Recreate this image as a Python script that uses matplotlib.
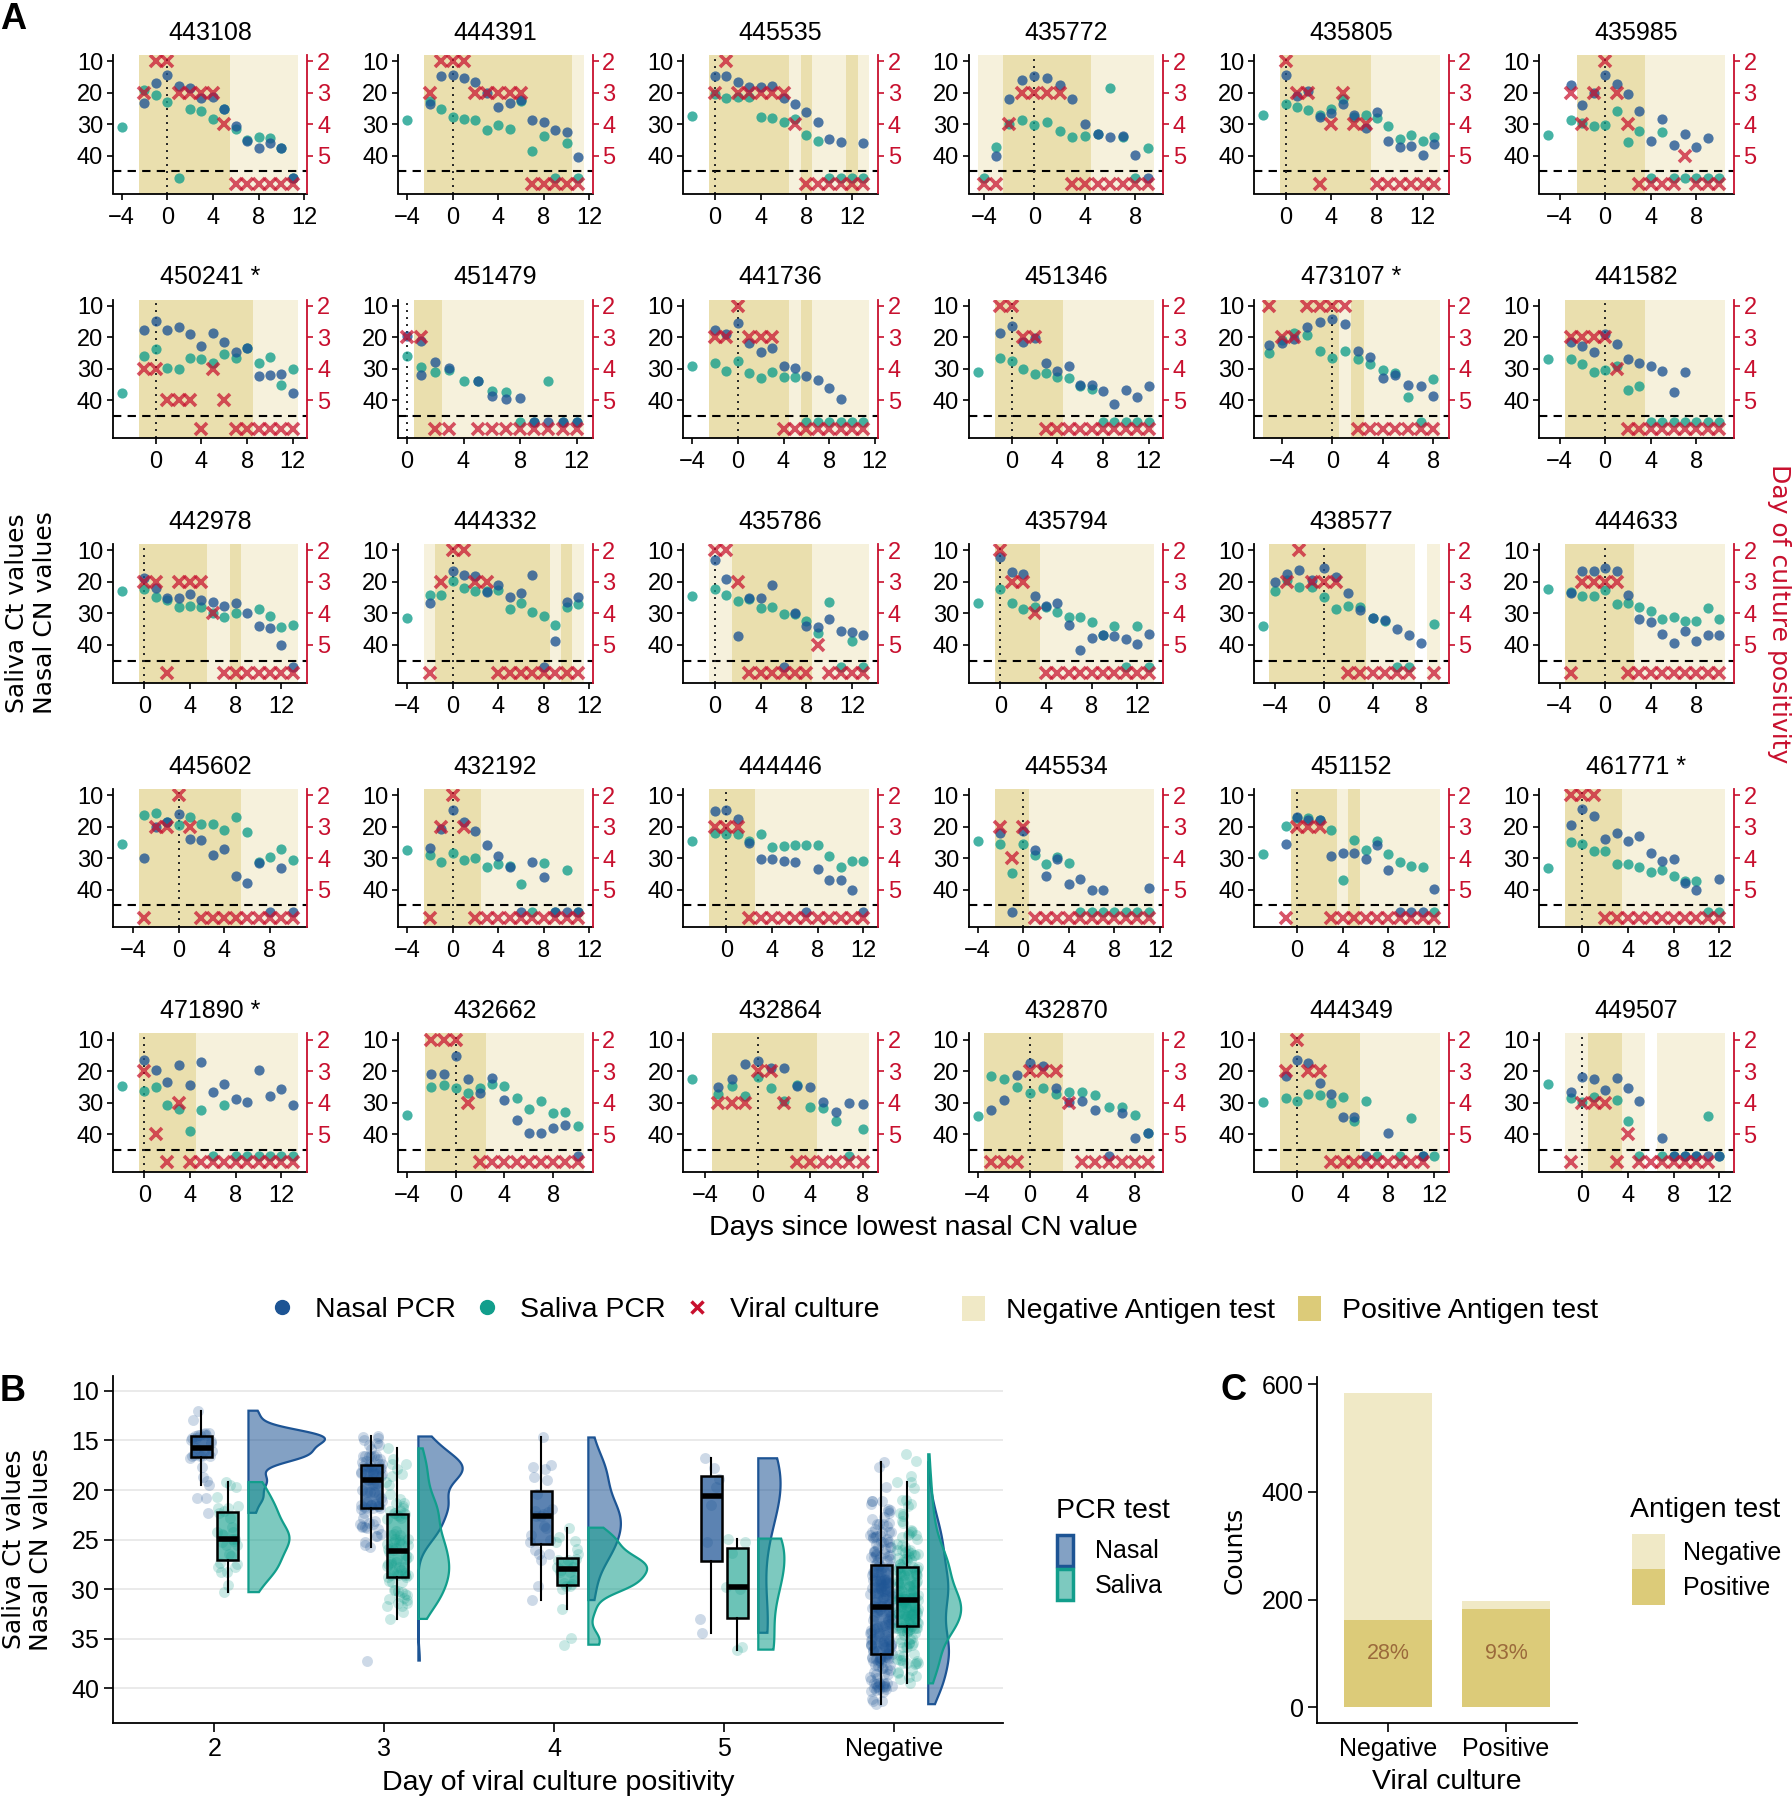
import numpy as np
import matplotlib
matplotlib.use("Agg")
import matplotlib.pyplot as plt
from matplotlib import font_manager
from matplotlib.patches import Patch
from matplotlib.lines import Line2D
from matplotlib.ticker import MultipleLocator

# ============================ DATA ============================
subject_ids = ["443108", "444391", "445535", "435772", "435805", "435985",
               "450241 *", "451479", "441736", "451346", "473107 *", "441582",
               "442978", "444332", "435786", "435794", "438577", "444633",
               "445602", "432192", "444446", "445534", "451152", "461771 *",
               "471890 *", "432662", "432864", "432870", "444349", "449507"]

# antigen test per day: P positive, N negative, . no test
antigen_start = [-2, -2, 0, -4, 0, -2, -1, 1, -2, -1, -5, -3, 0, -2, 0,
                 0, -4, -3, -3, -2, -1, -2, 0, -1, 0, -2, -3, -3, -1, -1]
antigen_calls = ["PPPPPPPPNNNNNN", "PPPPPPPPPPPPPN", "PPPPPPPNPNNNPN", "NNPPPPPPPNNNNN",
                 "PPPPPPPPNNNNNN", "PPPPPPNNNNNNN", "PPPPPPPPPPNNNN", "PPNNNNNNNNNN",
                 "PPPPPPPNPNNNNN", "PPPPPPNNNNNNNN", "PPPPPPNPNNNNNN", "PPPPPPPNNNNNNN",
                 "PPPPPPNNPNNNNN", "NPPPPPPPPPPNPN", "NNPPPPPPPNNNNN", "PPPPNNNNNNNNNN",
                 "PPPPPPPPNNNN.N", "PPPPPPNNNNNNNN", "PPPPPPPPPNNNNN", "PPPPPNNNNNNNNN",
                 "PPPPNNNNNNNNNN", "PPPNNNNNNNNNNN", "PPPPNPNNNNNNN", "PPPPPNNNNNNNNN",
                 "PPPPPNNNNNNNNN", "PPPPPNNNNNNNN", "PPPPPPPPNNNN", "PPPPPPNNNNNNN",
                 "PPPPPPPNNNNNNN", "NNPPPNN.NNNNNN"]

# nasal CN values per consecutive day from nasal_start (None = no sample, "ND" = not detected)
nasal_start = [-2, -2, 0, -3, 0, -3, -1, 0, -2, -1, -5, -3, 0, -2, 0,
               0, -4, -3, -3, -2, -1, -2, -1, -1, 0, -2, -3, -3, -1, -1]
nasal_ct = [
    [23.4, 16.8, 14.3, 17.9, 18.4, 21.6, 21.5, 25.2, 30.5, 35.2, 37.7, 36.0, 37.4, "ND"],
    [23.7, 14.8, 14.2, 15.4, 16.5, 20.2, 24.4, 23.4, 22.3, 28.6, 29.3, 31.8, 32.6, 40.4],
    [14.8, 14.8, 16.6, 18.3, 18.3, 17.9, 21.8, 23.6, 26.2, 29.3, 34.7, 35.5, None, 35.8],
    [40.2, 22.1, 15.9, 14.7, 15.3, 17.6, 22.0, 29.8, 33.1, 34.2, 33.7, 39.8, "ND"],
    [14.5, 21.1, 19.4, 27.8, 26.5, 23.7, 27.1, 31.1, 26.2, 35.2, 37.2, 36.8, 39.9, 36.2],
    [17.4, 23.8, 20.2, 14.5, 17.2, 20.4, 25.7, 35.4, 28.3, 36.5, 33.0, 37.1, 34.4],
    [17.5, 14.7, 17.8, 16.8, 18.9, 22.7, 18.7, 21.5, 24.6, 23.3, 32.2, 31.9, 31.6, 37.8],
    [19.5, 21.2, 27.7, 29.6, None, 34.0, 38.6, 39.6, 39.2, "ND", "ND", "ND", "ND"],
    [17.8, 18.9, 15.3, 21.7, 24.6, 23.3, 29.0, 29.8, 32.2, 33.7, 36.2, 39.5],
    [18.7, 16.5, 21.5, 20.2, 28.3, 30.7, 29.1, 35.0, 35.0, 36.9, 41.1, 36.8, 39.0, 35.5],
    [22.3, 21.8, 20.5, 16.6, 15.0, 14.2, 15.8, 24.2, 26.3, 33.0, 32.1, 35.1, 35.6, 38.6],
    [21.5, 22.8, 24.6, 18.9, 22.2, 27.0, 28.0, 29.1, 30.6, 37.3, 31.0],
    [18.6, 21.8, 25.2, 25.2, 23.9, 25.7, 26.5, 27.6, 26.7, 29.9, 34.1, 34.6, 39.9, "ND"],
    [26.6, None, 16.6, 17.7, 18.2, 23.1, 21.1, 24.8, 23.6, 17.7, "ND", 38.9, 26.4, 24.7],
    [12.9, 19.1, 37.2, 25.2, 25.2, 21.1, "ND", 30.0, 33.9, 34.4, 31.8, 35.6, 36.0, 36.9],
    [12.0, 16.9, 17.6, 24.5, 27.6, 26.8, 33.6, 41.6, 37.7, 36.9, 37.2, 38.1, 39.8, 36.5],
    [20.0, 17.6, 16.1, 19.3, 15.5, 18.4, 23.4, 28.9, 31.5, 32.0, 35.0, 36.7, 39.3],
    [23.4, 16.6, 16.6, 15.5, 16.6, 24.2, 31.7, 32.7, 36.4, 39.5, 35.6, 38.6, 37.0, 37.0],
    [30.0, 20.0, 18.4, 16.1, 23.8, 24.2, 29.1, 27.1, 35.8, 38.0, 31.7, "ND", 33.2, "ND"],
    [26.8, 20.8, 14.6, 18.4, 21.4, 25.9, 29.2, 32.8, "ND", 31.1, 36.1, "ND", "ND", "ND"],
    [15.0, 14.6, 17.7, 25.2, 30.4, 30.4, 30.9, 31.3, "ND", 33.5, 36.9, 36.9, 40.1, "ND"],
    [21.9, "ND", 21.4, 27.3, 35.6, 30.2, 38.4, 36.5, 40.1, 40.3, None, None, None, 39.5],
    [25.4, 17.1, 17.9, 17.9, 29.4, 28.3, 28.3, 30.2, 25.7, 33.9, "ND", "ND", "ND", 39.8],
    [19.5, 14.5, 16.6, 23.9, 21.9, 24.5, 22.9, 28.3, 30.9, 30.2, 38.0, 40.0, None, 36.6],
    [16.6, 19.7, 23.4, 17.9, 24.5, 17.2, 26.5, 24.2, 28.9, 29.9, 19.7, 27.8, 25.7, 30.9],
    [20.8, 20.8, 15.1, 22.6, 26.8, 22.1, 29.2, 35.6, 39.8, 39.6, 38.2, 37.0, "ND"],
    [25.0, 22.6, 17.7, 16.9, 19.0, 19.0, 24.7, 24.9, 29.9, 33.0, 30.2, 30.4],
    [32.3, 29.1, 21.1, 17.4, 18.2, 25.5, 29.7, 29.4, 32.3, "ND", 33.4, 41.3, 39.5],
    [21.6, 16.6, 17.4, 23.6, 27.1, 34.4, 34.4, "ND", None, 39.6, None, None, "ND"],
    [26.6, 21.9, 22.4, 26.0, 22.3, 25.2, 29.4, None, 41.3, "ND", "ND", "ND", "ND", "ND"],
]
# second nasal sample on the same day: (subject index, day, CN)
nasal_repeat = [(7, 1, 32.0)]

saliva_start = [-4, -4, -2, -4, -2, -5, -3, 0, -4, -3, -5, -5, -2, -4, -2,
                -2, -5, -5, -5, -4, -3, -4, -3, -3, -2, -4, -5, -4, -3, -3]
saliva_ct = [
    [30.8, None, 19.2, 20.7, 22.8, "ND", 25.0, 25.8, 28.4, 25.2, 31.6, 35.0, 34.2, 34.4, 37.4, "ND"],
    [28.8, None, 22.5, 25.2, 27.8, 28.3, 28.8, 31.7, 30.1, 31.4, 22.6, 38.4, 33.7, "ND", 35.8, "ND"],
    [27.3, None, 20.4, 21.8, 21.3, 21.3, 27.7, 28.1, 29.3, 28.3, 33.3, 35.4, "ND", "ND", "ND", "ND"],
    ["ND", 37.1, 30.0, 28.8, 30.2, 29.2, 32.3, 33.9, 33.6, 33.1, 18.6, 34.1, "ND", 37.4],
    [27.1, None, 23.7, 24.4, 25.5, 27.1, 25.1, 22.0, 27.6, 27.1, 27.9, 30.7, 34.6, 33.4, 35.4, 33.9],
    [33.4, None, 28.6, 29.5, 30.5, 30.3, 25.8, 35.6, 32.1, "ND", 32.6, "ND", "ND", "ND", "ND", "ND"],
    [37.6, None, 25.9, 23.8, 29.8, 30.0, 26.4, 26.9, 28.3, 25.2, 26.4, 23.3, 28.0, 26.2, 35.0, 30.1],
    [25.9, 29.3, 31.0, 30.5, 33.8, 34.0, 37.1, 37.5, "ND", "ND", 33.9, "ND", "ND"],
    [29.0, None, 28.3, 30.6, 27.5, 31.4, 33.0, 30.9, 32.5, 32.5, "ND", "ND", "ND", "ND", "ND", "ND"],
    [30.9, None, 26.5, 27.4, 30.1, 31.7, 31.2, 32.5, 33.0, 35.3, 36.5, "ND", "ND", "ND", "ND", "ND"],
    [25.1, 20.9, 18.6, 19.2, 24.2, 26.7, 24.4, 27.0, 28.6, 30.4, 31.4, 38.8, "ND", 33.3],
    [27.0, None, 27.0, 28.4, 31.0, 30.3, 29.1, 36.6, 35.4, "ND", "ND", "ND", "ND", "ND", "ND", "ND"],
    [22.9, None, 22.3, 24.9, 25.7, 27.8, 27.5, 27.8, 29.7, 31.1, 29.7, None, 28.6, 30.9, 34.3, 33.6],
    [31.5, None, 24.1, 24.1, 19.7, 21.8, 22.9, 22.8, 22.6, 28.6, 26.8, 29.4, 30.7, 33.8, 28.1, 27.1],
    [24.4, None, 22.3, 24.2, 26.0, 25.5, 28.4, 28.1, 30.2, 30.2, 32.5, 36.1, 26.5, "ND", 38.9, "ND"],
    [26.6, None, 22.1, 26.6, 28.6, 27.8, 27.8, 29.6, 31.0, 31.0, 32.6, 36.7, 33.9, "ND", 33.9, "ND"],
    [33.9, 22.9, 19.5, 21.6, 21.6, 24.9, 28.6, 27.5, 27.8, 31.5, 32.3, "ND", "ND", None, 33.4],
    [22.1, None, 23.1, 24.5, 24.5, 22.4, 27.0, 26.6, 28.1, 29.2, 31.7, 31.0, 32.3, 32.3, 28.4, 31.7],
    [25.5, None, 16.4, 15.8, 18.4, 19.5, 16.9, 19.2, 19.2, 21.0, 17.1, 21.6, 31.1, 29.6, 27.0, 30.6],
    [27.5, None, 29.1, 31.1, 28.3, 30.7, 30.1, 33.0, 31.8, 32.5, 38.2, "ND", 31.5, "ND", 33.9, "ND"],
    [24.5, None, 22.1, 22.3, 22.3, 24.5, 22.3, 26.6, 26.3, 26.0, 26.0, 26.0, 29.4, 32.7, 30.9, 30.9],
    [24.5, None, 25.4, 34.9, 25.4, 29.1, 32.0, 29.7, 31.7, "ND", "ND", "ND", "ND", "ND", "ND", "ND"],
    [28.6, None, 19.8, 17.4, 17.4, 17.9, 21.0, 37.0, 24.2, 27.3, 24.5, 28.6, 31.1, 32.5, 32.8, "ND"],
    [33.3, None, 24.9, 25.5, 27.8, 27.8, 31.8, 31.8, 32.8, 34.3, 33.9, 35.6, 37.4, 37.2, "ND", "ND"],
    [24.7, None, 26.3, 24.9, 30.9, 32.0, 39.1, 32.3, "ND", 30.7, "ND", "ND", "ND", "ND", "ND", "ND"],
    [33.9, None, 24.9, 24.5, 25.5, 27.0, 25.4, 24.0, 24.7, 28.6, 32.0, 29.6, 33.3, 33.0, 37.4],
    [22.4, None, 27.1, 24.7, 27.8, 21.8, 25.2, 29.4, 24.4, 31.5, 31.8, 35.8, "ND", 38.5],
    [34.1, 21.4, 22.4, 24.9, 26.8, 25.2, 27.3, 26.5, 26.5, 27.5, 31.3, 31.3, 33.9, 39.5],
    [29.9, None, 28.6, 29.6, 27.3, 27.5, 30.2, 28.1, 35.8, 29.4, "ND", None, "ND", 34.9, "ND", "ND"],
    [24.0, None, 28.6, 29.7, 28.1, None, 29.2, 35.8, "ND", None, "ND", "ND", "ND", "ND", 34.1, "ND"],
]

# viral culture: day of culture positivity (2-5), "neg" = negative culture
culture_start = [-2, -2, 0, -4, 0, -3, -1, 0, -2, -1, -5, -3, 0, -2, 0,
                 0, -3, -3, -3, -2, -1, -2, -1, -1, 0, -2, -3, -3, -1, -1]
culture_result = [
    [3, 2, 2, 3, 3, 3, 3, 4, "neg", "neg", "neg", "neg", "neg", "neg"],
    [3, 2, 2, 2, 3, 3, 3, 3, 3, "neg", "neg", "neg", "neg", "neg"],
    [3, 2, 3, 3, 3, 3, 3, 4, "neg", "neg", "neg", "neg", "neg", "neg"],
    ["neg", "neg", 4, 3, 3, 3, 3, "neg", "neg", "neg", "neg", "neg", "neg", "neg"],
    [2, 3, 3, "neg", 4, 3, 4, 4, "neg", "neg", "neg", "neg", "neg", "neg"],
    [3, 4, 3, 2, 3, 4, "neg", "neg", "neg", "neg", 5, "neg", "neg", "neg"],
    [4, 4, 5, 5, 5, "neg", 4, 5, "neg", "neg", "neg", "neg", "neg", "neg"],
    [3, 3, "neg", "neg", None, "neg", "neg", "neg", "neg", "neg", "neg", "neg", "neg"],
    [3, 3, 2, 3, 3, 3, "neg", "neg", "neg", "neg", "neg", "neg", "neg", "neg"],
    [2, 2, 3, 3, "neg", "neg", "neg", "neg", "neg", "neg", "neg", "neg", "neg", "neg"],
    [2, 3, 3, 2, 2, 2, 2, "neg", "neg", "neg", "neg", "neg", "neg", "neg"],
    [3, 3, 3, 3, 4, "neg", "neg", "neg", "neg", "neg", "neg", "neg", "neg", "neg"],
    [3, 3, "neg", 3, 3, 3, 4, "neg", "neg", "neg", "neg", "neg", "neg", "neg"],
    ["neg", 3, 2, 2, 3, 3, "neg", "neg", "neg", "neg", "neg", "neg", "neg", "neg"],
    [2, 2, 3, "neg", "neg", "neg", "neg", "neg", "neg", 5, "neg", "neg", "neg", "neg"],
    [2, 3, 3, 4, "neg", "neg", "neg", "neg", "neg", "neg", "neg", "neg", "neg", "neg"],
    [3, 2, 3, 3, 3, "neg", "neg", "neg", "neg", "neg", "neg", None, "neg"],
    ["neg", 3, 3, 3, 3, "neg", "neg", "neg", "neg", "neg", "neg", "neg", "neg", "neg"],
    ["neg", 3, 3, 2, 3, "neg", "neg", "neg", "neg", "neg", "neg", "neg", "neg", "neg"],
    ["neg", 3, 2, 3, "neg", "neg", "neg", "neg", "neg", "neg", "neg", "neg", "neg", "neg"],
    [3, 3, 3, "neg", "neg", "neg", "neg", "neg", "neg", "neg", "neg", "neg", "neg", "neg"],
    [3, 4, 3, "neg", "neg", "neg", "neg", "neg", "neg", "neg", "neg", "neg", "neg", "neg"],
    ["neg", 3, 3, 3, "neg", "neg", "neg", "neg", "neg", "neg", "neg", "neg", "neg", "neg"],
    [2, 2, 2, "neg", "neg", "neg", "neg", "neg", "neg", "neg", "neg", "neg", "neg", "neg"],
    [3, 5, "neg", 4, "neg", "neg", "neg", "neg", "neg", "neg", "neg", "neg", "neg", "neg"],
    [2, 2, 2, 4, "neg", "neg", "neg", "neg", "neg", "neg", "neg", "neg", "neg"],
    [4, 4, 4, 3, 3, 4, "neg", "neg", "neg", "neg", "neg", "neg"],
    ["neg", "neg", "neg", 3, 3, 3, 4, "neg", "neg", "neg", "neg", "neg", "neg"],
    [3, 2, 3, 3, "neg", "neg", "neg", "neg", "neg", "neg", "neg", "neg", "neg"],
    ["neg", 4, 4, 4, "neg", 5, "neg", "neg", "neg", "neg", "neg", "neg", "neg"],
]

# Panel B categories
pos_day_groups = [2, 3, 4, 5, "neg"]
pos_day_labels = ["2", "3", "4", "5", "Negative"]

# Panel C counts
culture_labels = ["Negative", "Positive"]
antigen_pos_counts = [162, 183]
antigen_neg_counts = [422, 14]

# ============================ STYLE ============================
names = {f.name for f in font_manager.fontManager.ttflist}
MAIN = "Liberation Sans" if "Liberation Sans" in names else "DejaVu Sans"
ROT = "DejaVu Sans"
plt.rcParams["font.family"] = [MAIN, "DejaVu Sans"]
plt.rcParams["axes.linewidth"] = 1.3

NASAL = "#1D5494"
SALIVA = "#129E8C"
RED = "#C8102E"
AG_POS = "#DCCB79"
AG_NEG = "#F0E9C6"
ND_LEVEL = 47.0
CULT_NEG_LEVEL = 49.0
YLIM = (52.0, 8.0)

W, H = 1792, 1800
fig = plt.figure(figsize=(W / 100, H / 100), dpi=100)


def px_axes(x0, y0, w, h):
    return fig.add_axes([x0 / W, 1 - (y0 + h) / H, w / W, h / H])


def expand(start, vals):
    out = []
    for i, v in enumerate(vals):
        if v is None:
            continue
        out.append((start + i, v))
    return out


def runs(start, calls):
    res = []
    cur, s = None, None
    for i, ch in enumerate(calls + "."):
        if ch != cur:
            if cur in ("P", "N"):
                res.append((cur, start + s - 0.5, start + i - 0.5))
            cur, s = ch, i
    return res


# ============================ PANEL A ============================
for k, sid in enumerate(subject_ids):
    r, c = divmod(k, 6)
    ax = px_axes(112.8 + 285.3 * c, 55 + 244.6 * r, 194.5, 138.5)
    ax2 = ax.twinx()

    allx = []
    for call, a, b in runs(antigen_start[k], antigen_calls[k]):
        ax.axvspan(a, b, facecolor=AG_POS if call == "P" else AG_NEG, alpha=0.6,
                   lw=0, zorder=0)
        allx += [a, b]

    nas = expand(nasal_start[k], nasal_ct[k]) + [(d, v) for (s, d, v) in nasal_repeat if s == k]
    sal = expand(saliva_start[k], saliva_ct[k])
    cul = expand(culture_start[k], culture_result[k])
    allx += [d for d, _ in nas] + [d for d, _ in sal] + [d for d, _ in cul]

    ax.axhline(45, color="black", lw=1.5, ls=(0, (4, 3)), zorder=1)
    ax.axvline(0, color="#222222", lw=1.4, ls=(0, (1, 2.6)), zorder=1)

    sx = [d for d, _ in sal]
    sy = [ND_LEVEL if v == "ND" else v for _, v in sal]
    ax.scatter(sx, sy, s=54, color=SALIVA, alpha=0.78, lw=0, zorder=3)
    nx = [d for d, _ in nas]
    ny = [ND_LEVEL if v == "ND" else v for _, v in nas]
    ax.scatter(nx, ny, s=54, color=NASAL, alpha=0.78, lw=0, zorder=4)

    cx = [d for d, _ in cul]
    cy = [1 + CULT_NEG_LEVEL / 10 if v == "neg" else v for _, v in cul]
    ax2.plot(cx, cy, ls="none", marker="x", color=RED, alpha=0.72, ms=8.5, mew=2.6)

    lo, hi = min(allx), max(allx)
    pad = 0.05 * (hi - lo)
    ax.set_xlim(lo - pad, hi + pad)
    ax.set_ylim(*YLIM)
    ax2.set_ylim(1 + YLIM[0] / 10, 1 + YLIM[1] / 10)
    ax.set_yticks([10, 20, 30, 40])
    ax2.set_yticks([2, 3, 4, 5])
    ax.xaxis.set_major_locator(MultipleLocator(4))

    for sp in ("top", "right"):
        ax.spines[sp].set_visible(False)
    for sp in ("top", "left", "bottom"):
        ax2.spines[sp].set_visible(False)
    ax2.spines["right"].set_color(RED)
    ax2.spines["right"].set_linewidth(1.3)
    ax.tick_params(axis="both", labelsize=17, length=4, width=1.2)
    ax.tick_params(axis="x", pad=5.5)
    ax.tick_params(axis="y", pad=3)
    ax2.tick_params(axis="y", labelsize=17, length=4, width=1.2, pad=3,
                    colors=RED, labelcolor=RED)
    ax.set_title(sid, fontsize=18, pad=11)

fig.text(0.0, 1 - 2 / H, "A", fontsize=26, fontweight="bold", va="top", ha="left")
fig.text(31 / W, 1 - 613 / H, "Saliva Ct values\nNasal CN values", rotation=90,
         ha="center", va="center", fontsize=18, family=ROT, linespacing=1.2)
fig.text(1779 / W, 1 - 614 / H, "Day of culture positivity", rotation=270,
         ha="center", va="center", fontsize=18, family=ROT, color=RED)
fig.text(923 / W, 1 - 1228 / H, "Days since lowest nasal CN value",
         ha="center", va="center", fontsize=20.5)

# top legend
h1 = [Line2D([], [], ls="none", marker="o", ms=10, color=NASAL),
      Line2D([], [], ls="none", marker="o", ms=10, color=SALIVA),
      Line2D([], [], ls="none", marker="x", ms=9, mew=2.5, color=RED)]
fig.legend(h1, ["Nasal PCR", "Saliva PCR", "Viral culture"], loc="center left",
           bbox_to_anchor=(268 / W, 1 - 1310 / H), ncol=3, frameon=False,
           fontsize=20.5, handlelength=1.0, handletextpad=0.65, columnspacing=0.6,
           borderpad=0, borderaxespad=0)
h2 = [Patch(facecolor=AG_NEG, lw=0), Patch(facecolor=AG_POS, lw=0)]
fig.legend(h2, ["Negative Antigen test", "Positive Antigen test"], loc="center left",
           bbox_to_anchor=(962 / W, 1 - 1310 / H), ncol=2, frameon=False,
           fontsize=20.5, handlelength=0.8, handleheight=0.95, handletextpad=0.75,
           columnspacing=0.8, borderpad=0, borderaxespad=0)

# ============================ PANEL B ============================
nas_groups = {g: [] for g in pos_day_groups}
sal_groups = {g: [] for g in pos_day_groups}
for k in range(len(subject_ids)):
    nmap = dict(expand(nasal_start[k], nasal_ct[k]))
    smap = dict(expand(saliva_start[k], saliva_ct[k]))
    for d, res in expand(culture_start[k], culture_result[k]):
        nv, sv = nmap.get(d), smap.get(d)
        if isinstance(nv, float):
            nas_groups[res].append(nv)
        if isinstance(sv, float):
            sal_groups[res].append(sv)


def kde(vals, grid):
    v = np.asarray(vals, float)
    n = len(v)
    sd = v.std(ddof=1)
    q75, q25 = np.percentile(v, [75, 25])
    bw = 0.9 * min(sd, (q75 - q25) / 1.34) * n ** (-0.2)
    z = (grid[:, None] - v[None, :]) / bw
    return np.exp(-0.5 * z ** 2).sum(1) / (n * bw * np.sqrt(2 * np.pi))


axB = px_axes(112.5, 1376, 890.5, 347)
dens = {}
for g in pos_day_groups:
    for kind, vals in (("n", nas_groups[g]), ("s", sal_groups[g])):
        grid = np.linspace(min(vals), max(vals), 300)
        dens[(g, kind)] = (grid, kde(vals, grid))
scale = 0.45 / max(d.max() for _, d in dens.values())

for gi, g in enumerate(pos_day_groups):
    for kind, vals, col, off, a_box in (("n", nas_groups[g], NASAL, -0.077, 0.72),
                                         ("s", sal_groups[g], SALIVA, 0.077, 0.62)):
        v = np.asarray(vals)
        jit = (np.modf(np.arange(len(v)) * 0.6180339887)[0] - 0.5) * 0.13
        axB.scatter(gi + off + jit, v, s=62, color=col, alpha=0.22, lw=0, zorder=2)
        bp = axB.boxplot([v], positions=[gi + off], widths=0.125, patch_artist=True,
                         showfliers=False, whis=1.5, manage_ticks=False, zorder=3)
        for b in bp["boxes"]:
            b.set_facecolor((matplotlib.colors.to_rgb(col) + (a_box,)))
            b.set_edgecolor("black")
            b.set_linewidth(1.8)
        for wl in bp["whiskers"]:
            wl.set_color("black")
            wl.set_linewidth(1.5)
        for cp in bp["caps"]:
            cp.set_visible(False)
        for m in bp["medians"]:
            m.set_color("black")
            m.set_linewidth(4)
    for kind, col in (("n", NASAL), ("s", SALIVA)):
        grid, d = dens[(g, kind)]
        x0 = gi + 0.2
        xs = np.concatenate([[x0], x0 + d * scale, [x0]])
        ys = np.concatenate([[grid[0]], grid, [grid[-1]]])
        axB.fill(xs, ys, facecolor=matplotlib.colors.to_rgb(col) + (0.55,),
                 edgecolor=col, lw=1.6, zorder=4)

axB.set_xlim(-0.6, 4.64)
axB.set_ylim(43.5, 8.5)
axB.set_yticks([10, 15, 20, 25, 30, 35, 40])
axB.set_xticks(range(len(pos_day_groups)))
axB.set_xticklabels(pos_day_labels)
axB.yaxis.grid(True, color="#E8E8E8", lw=1.3)
axB.set_axisbelow(True)
for sp in ("top", "right"):
    axB.spines[sp].set_visible(False)
axB.tick_params(axis="both", labelsize=18, length=6.5, width=1.2)
axB.tick_params(axis="x", pad=3.5)
axB.tick_params(axis="y", pad=3)
axB.set_xlabel("Day of viral culture positivity", fontsize=20.5, va="center")
axB.xaxis.set_label_coords(0.5, -0.173)
axB.set_ylabel("Saliva Ct values\nNasal CN values", fontsize=18, family=ROT,
               linespacing=1.15, va="center")
axB.yaxis.set_label_coords(-0.095, 0.5)
fig.text(0.0, 1 - 1374 / H, "B", fontsize=26, fontweight="bold", va="top", ha="left")

hB = [Patch(facecolor=matplotlib.colors.to_rgb(NASAL) + (0.55,), edgecolor=NASAL, lw=2.5),
      Patch(facecolor=matplotlib.colors.to_rgb(SALIVA) + (0.55,), edgecolor=SALIVA, lw=2.5)]
fig.text(1056 / W, 1 - 1511 / H, "PCR test", fontsize=20.5, ha="left", va="center")
fig.legend(hB, ["Nasal", "Saliva"], loc="upper left",
           bbox_to_anchor=(1057 / W, 1 - 1535 / H), frameon=False, fontsize=18,
           handlelength=0.65, handleheight=1.5, labelspacing=0.15, handletextpad=0.85,
           borderpad=0, borderaxespad=0)

# ============================ PANEL C ============================
axC = px_axes(1317, 1377, 260, 346)
xc = np.arange(len(culture_labels))
axC.bar(xc, antigen_pos_counts, width=0.75, color=AG_POS, lw=0)
axC.bar(xc, antigen_neg_counts, width=0.75, bottom=antigen_pos_counts, color=AG_NEG, lw=0)
for i in range(len(xc)):
    tot = antigen_pos_counts[i] + antigen_neg_counts[i]
    axC.text(xc[i], 100, f"{100 * antigen_pos_counts[i] / tot:.0f}%", ha="center",
             va="center", fontsize=15.5, color="#9B6A3B")
axC.set_xlim(-0.6, 1.6)
axC.set_ylim(-29, 613)
axC.set_yticks([0, 200, 400, 600])
axC.set_xticks(xc)
axC.set_xticklabels(culture_labels)
for sp in ("top", "right"):
    axC.spines[sp].set_visible(False)
axC.tick_params(axis="both", labelsize=18, length=6.5, width=1.2)
axC.tick_params(axis="x", pad=3.5)
axC.tick_params(axis="y", pad=3)
axC.set_xlabel("Viral culture", fontsize=20.5, va="center")
axC.xaxis.set_label_coords(0.5, -0.17)
axC.set_ylabel("Counts", fontsize=18, family=ROT, va="center")
axC.yaxis.set_label_coords(-0.315, 0.5)
fig.text(1220 / W, 1 - 1373 / H, "C", fontsize=26, fontweight="bold", va="top", ha="left")

hC = [Patch(facecolor=AG_NEG, lw=0), Patch(facecolor=AG_POS, lw=0)]
fig.text(1630 / W, 1 - 1510 / H, "Antigen test", fontsize=20.5, ha="left", va="center")
fig.legend(hC, ["Negative", "Positive"], loc="upper left",
           bbox_to_anchor=(1632 / W, 1 - 1534 / H), frameon=False, fontsize=18,
           handlelength=1.3, handleheight=1.8, labelspacing=0.0, handletextpad=0.75,
           borderpad=0, borderaxespad=0)

fig.savefig("out.png", dpi=100)
